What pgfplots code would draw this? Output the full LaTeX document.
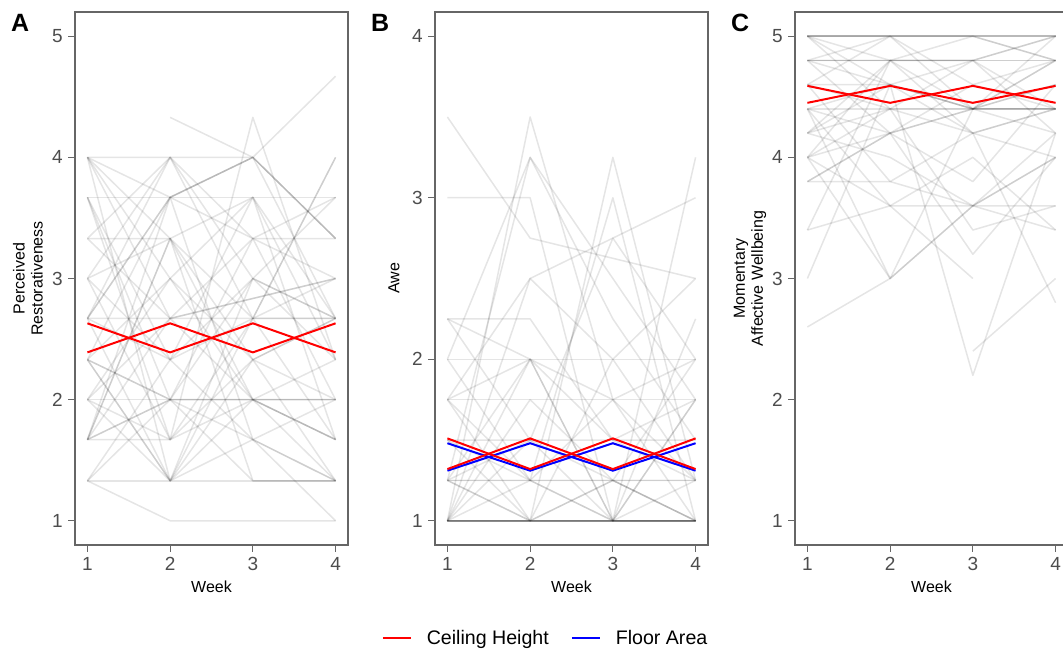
\documentclass[border=0pt]{standalone}
\usepackage{fontspec}
\setmainfont{Liberation Sans}
\usepackage{pgfplots}
\pgfplotsset{compat=1.18}
\definecolor{axgrey}{HTML}{666666}
\definecolor{tickgrey}{HTML}{4D4D4D}
\pgfplotsset{
  panel/.style={
    scale only axis, width=273pt, height=533pt, anchor=south west,
    xmin=0.85, xmax=4.15, xtick={1,2,3,4},
    axis line style={axgrey, line width=1.1pt},
    every tick/.style={axgrey, line width=1.1pt},
    tick align=outside, major tick length=7pt,
    xtick pos=bottom, ytick pos=left,
    ticklabel style={font=\fontsize{19}{22}\selectfont, text=tickgrey},
    /pgf/number format/assume math mode=true,
    yticklabel style={inner sep=0pt, xshift=-5pt},
    xticklabel style={inner sep=0pt, yshift=-5pt},
    xlabel=Week,
    label style={font=\fontsize{16}{18}\selectfont},
    xlabel style={at={(axis description cs:0.5,0)}, anchor=center, yshift=-42pt},
    ylabel style={align=center, anchor=center},
  },
  gl/.style={black, opacity=0.1, line width=1.5pt, forget plot, line join=round},
  ceil/.style={red, line width=2pt, forget plot},
  flr/.style={blue, line width=2pt, forget plot},
}
\begin{document}
\begin{tikzpicture}
\useasboundingbox (0,0) rectangle (1063pt,655pt);
% ---------------- Panel A ----------------
\begin{axis}[panel, at={(75pt,110pt)}, ymin=0.8, ymax=5.2, ytick={1,2,3,4,5},
  ylabel={Perceived\\Restorativeness},
  ylabel style={at={([xshift=-47pt]axis description cs:0,0.5)}}]
\addplot[gl] coordinates {(1,4)(2,4)(3,4)(4,3.33)};
\addplot[gl] coordinates {(1,4)(2,2.67)(3,2)(4,1.67)};
\addplot[gl] coordinates {(1,4)(2,3.33)(3,2.33)(4,1.33)};
\addplot[gl] coordinates {(1,4)(2,1.33)(3,2.33)(4,2)};
\addplot[gl] coordinates {(1,3.67)(2,3.67)(3,3.67)(4,3.67)};
\addplot[gl] coordinates {(1,3.67)(2,2)(3,1.33)(4,1.33)};
\addplot[gl] coordinates {(1,3.33)(2,3.33)(3,2.67)(4,2.67)};
\addplot[gl] coordinates {(1,3.33)(2,4)(3,3)(4,2.33)};
\addplot[gl] coordinates {(1,3)(2,2.33)(3,1.67)(4,2)};
\addplot[gl] coordinates {(1,3)(2,4)(3,3.33)(4,3)};
\addplot[gl] coordinates {(1,2.67)(2,3.67)(3,4)(4,3.33)};
\addplot[gl] coordinates {(1,2.33)(2,3.67)(3,4)(4,2.67)};
\addplot[gl] coordinates {(1,1.67)(2,3.67)(3,4)(4,3.33)};
\addplot[gl] coordinates {(1,2.67)(2,2.67)(4,3)};
\addplot[gl] coordinates {(1,1.67)(2,2.67)(4,3)};
\addplot[gl] coordinates {(1,2.67)(2,4)(3,2.67)(4,4)};
\addplot[gl] coordinates {(1,2.33)(2,1.33)(3,2)(4,2)};
\addplot[gl] coordinates {(1,2.33)(2,2)(3,2)(4,1.67)};
\addplot[gl] coordinates {(1,2.33)(2,2)(3,2)(4,2)};
\addplot[gl] coordinates {(1,1.67)(2,2)(3,3)(4,2.67)};
\addplot[gl] coordinates {(1,1.67)(2,2)(3,1.67)(4,1.33)};
\addplot[gl] coordinates {(1,1.67)(2,3.33)(3,3.67)(4,2.33)};
\addplot[gl] coordinates {(1,1.33)(2,1.33)(3,1.33)(4,1.33)};
\addplot[gl] coordinates {(1,1.33)(2,1)(3,1)(4,1)};
\addplot[gl] coordinates {(1,1.33)(2,2.33)(3,3)(4,3.67)};
\addplot[gl] coordinates {(1,2)(2,1.67)(3,4.33)(4,2.33)};
\addplot[gl] coordinates {(1,2)(2,1.33)(3,3)(4,2.67)};
\addplot[gl] coordinates {(1,2)(2,3)(3,2.33)(4,2.67)};
\addplot[gl] coordinates {(2,4.33)(3,4)(4,4.67)};
\addplot[gl] coordinates {(1,3)(2,1.67)(3,2.67)(4,4)};
\addplot[gl] coordinates {(1,4)(2,3)(3,3.67)(4,2.67)};
\addplot[gl] coordinates {(1,3.67)(2,2.33)(3,2.67)(4,3)};
\addplot[gl] coordinates {(1,2.67)(2,1.33)(3,1.67)(4,1.33)};
\addplot[gl] coordinates {(1,2)(2,2.67)(3,3.33)(4,3.33)};
\addplot[gl] coordinates {(1,2.33)(2,3)(3,2)(4,1.33)};
\addplot[gl] coordinates {(1,1.67)(2,1.67)(3,2.33)(4,2.67)};
\addplot[gl] coordinates {(1,3.33)(2,2.67)(3,2.67)(4,2.67)};
\addplot[gl] coordinates {(1,4)(2,3.67)(3,3.33)(4,3.67)};
\addplot[gl] coordinates {(1,2.67)(2,2.33)(3,3.67)(4,1.67)};
\addplot[gl] coordinates {(1,1.33)(2,2)(3,3.33)(4,2)};
\addplot[gl] coordinates {(1,3)(2,3.33)(3,1.33)(4,1.33)};
\addplot[gl] coordinates {(1,2)(2,2)(3,2)(4,2)};
\addplot[gl] coordinates {(1,2.33)(2,1.33)(3,2.67)(4,1.67)};
\addplot[gl] coordinates {(1,1.67)(2,3.33)(3,2)(4,1.67)};
\addplot[gl] coordinates {(1,3.67)(2,1.67)(3,2)(4,2.33)};
\addplot[gl] coordinates {(1,2.67)(2,3.67)(3,1.67)(4,1)};
\addplot[ceil] coordinates {(1,2.63)(2,2.39)(3,2.63)(4,2.39)};
\addplot[ceil] coordinates {(1,2.39)(2,2.63)(3,2.39)(4,2.63)};
\end{axis}
% ---------------- Panel B ----------------
\begin{axis}[panel, at={(435pt,110pt)}, ymin=0.85, ymax=4.15, ytick={1,2,3,4},
  ylabel={Awe},
  ylabel style={at={([xshift=-41pt]axis description cs:0,0.5)}},
  legend style={at={(0.405,-0.1745)}, anchor=center, draw=none, fill=none,
    legend columns=2, font=\fontsize{19.6}{22}\selectfont,
    /tikz/every even column/.append style={column sep=20pt}},
  legend image code/.code={\draw[#1] (0pt,0pt) -- (28pt,0pt); \path (41pt,0pt);}]
\addplot[gl] coordinates {(1,3.5)(2,2.75)(4,2.5)};
\addplot[gl] coordinates {(1,3)(2,3)(3,1)(4,1)};
\addplot[gl] coordinates {(1,1)(2,3.5)(3,1.75)(4,1)};
\addplot[gl] coordinates {(1,1.25)(2,3.25)(3,2.5)(4,1.75)};
\addplot[gl] coordinates {(1,1)(2,1)(3,3.25)(4,1.25)};
\addplot[gl] coordinates {(1,1.25)(2,1.25)(3,3)(4,1)};
\addplot[gl] coordinates {(1,1)(2,1)(3,1)(4,3.25)};
\addplot[gl] coordinates {(1,1.75)(2,2.5)(3,2.75)(4,3)};
\addplot[gl] coordinates {(1,2.25)(2,2)(3,1)(4,1)};
\addplot[gl] coordinates {(1,2)(2,2)(3,2)(4,2)};
\addplot[gl] coordinates {(1,1.75)(2,1.75)(3,1.75)(4,1.75)};
\addplot[gl] coordinates {(1,1.25)(2,1.25)(3,1.25)(4,1.25)};
\addplot[gl] coordinates {(1,1)(2,1)(3,1)(4,1)};
\addplot[gl] coordinates {(1,1)(2,1)(3,1)(4,1)};
\addplot[gl] coordinates {(1,1)(2,1)(3,1)(4,1)};
\addplot[gl] coordinates {(1,1.25)(2,1)(3,1)(4,1)};
\addplot[gl] coordinates {(1,1)(2,1)(3,1)(4,1.25)};
\addplot[gl] coordinates {(1,1)(2,1.25)(3,1)(4,2.25)};
\addplot[gl] coordinates {(1,2.25)(2,1.5)(3,1.25)(4,1)};
\addplot[gl] coordinates {(1,1.75)(2,2)(3,1.5)(4,1.25)};
\addplot[gl] coordinates {(1,1.5)(2,1.5)(3,1.5)(4,1.75)};
\addplot[gl] coordinates {(1,2)(2,1.25)(3,1.25)(4,1)};
\addplot[gl] coordinates {(1,1)(2,2.5)(3,2)(4,2.5)};
\addplot[gl] coordinates {(1,1.25)(2,2)(3,1.75)(4,2)};
\addplot[gl] coordinates {(1,1.5)(2,1.25)(3,1)(4,1.75)};
\addplot[gl] coordinates {(1,1)(2,1.5)(3,2.75)(4,2)};
\addplot[gl] coordinates {(1,1.75)(2,1)(3,2)(4,1.25)};
\addplot[gl] coordinates {(1,2.25)(2,2.25)(3,1.5)(4,1.5)};
\addplot[gl] coordinates {(1,1)(2,1.75)(3,1.25)(4,1)};
\addplot[gl] coordinates {(1,1.25)(2,1.5)(3,1)(4,1)};
\addplot[gl] coordinates {(1,1.5)(2,1)(3,1.25)(4,2)};
\addplot[gl] coordinates {(1,1)(2,1)(3,1.25)(4,1.25)};
\addplot[gl] coordinates {(1,2)(2,3.25)(3,2.25)(4,1.5)};
\addplot[gl] coordinates {(1,1)(2,2)(3,1)(4,1)};
\addplot[gl] coordinates {(1,1.75)(2,1.25)(3,1.75)(4,1.25)};
\addplot[gl] coordinates {(1,1.25)(2,1)(3,1)(4,1.75)};
\addplot[flr] coordinates {(1,1.48)(2,1.31)(3,1.48)(4,1.31)};
\addplot[flr] coordinates {(1,1.31)(2,1.48)(3,1.31)(4,1.48)};
\addplot[ceil] coordinates {(1,1.51)(2,1.32)(3,1.51)(4,1.32)};
\addplot[ceil] coordinates {(1,1.32)(2,1.51)(3,1.32)(4,1.51)};
\addlegendimage{red, line width=2pt}
\addlegendentry{Ceiling Height}
\addlegendimage{blue, line width=2pt}
\addlegendentry{Floor Area}
\end{axis}
% ---------------- Panel C ----------------
\begin{axis}[panel, at={(795pt,110pt)}, ymin=0.8, ymax=5.2, ytick={1,2,3,4,5},
  ylabel={Momentary\\Affective Wellbeing},
  ylabel style={at={([xshift=-45pt]axis description cs:0,0.5)}}]
\addplot[gl] coordinates {(1,5)(2,5)(3,5)(4,5)};
\addplot[gl] coordinates {(1,5)(2,5)(3,5)(4,5)};
\addplot[gl] coordinates {(1,5)(2,5)(3,5)(4,5)};
\addplot[gl] coordinates {(1,4.8)(2,5)(3,5)(4,4.8)};
\addplot[gl] coordinates {(1,5)(2,4.8)(3,4.8)(4,5)};
\addplot[gl] coordinates {(1,4.8)(2,4.8)(3,4.8)(4,4.8)};
\addplot[gl] coordinates {(1,4.8)(2,4.8)(3,4.8)(4,4.8)};
\addplot[gl] coordinates {(1,3.8)(2,4.2)(3,4.4)(4,4.8)};
\addplot[gl] coordinates {(1,3.8)(2,4.2)(3,4.4)(4,4.6)};
\addplot[gl] coordinates {(1,2.6)(2,3)(3,3.6)(4,4.2)};
\addplot[gl] coordinates {(1,3)(2,4.6)(3,4.4)(4,4.4)};
\addplot[gl] coordinates {(1,3.4)(2,4.8)(3,4.2)(4,4.4)};
\addplot[gl] coordinates {(1,4)(2,3)(3,4.4)(4,5)};
\addplot[gl] coordinates {(1,4)(2,3.6)(3,3.6)(4,3.6)};
\addplot[gl] coordinates {(1,4.4)(2,4.6)(3,2.2)(4,4.2)};
\addplot[gl] coordinates {(3,2.4)(4,3)};
\addplot[gl] coordinates {(1,4.4)(2,3.6)(3,3)};
\addplot[gl] coordinates {(1,4.2)(2,4.4)(3,3.4)(4,3.6)};
\addplot[gl] coordinates {(1,4)(2,4.2)(3,3.2)(4,4)};
\addplot[gl] coordinates {(1,4.6)(2,4.4)(3,4.2)(4,2.8)};
\addplot[gl] coordinates {(1,4.8)(2,4.6)(3,4.4)(4,4.6)};
\addplot[gl] coordinates {(1,4.4)(2,4.4)(3,4.4)(4,4.4)};
\addplot[gl] coordinates {(1,4.6)(2,3.8)(3,4.2)(4,4.4)};
\addplot[gl] coordinates {(1,4.2)(2,4)(3,3.6)(4,3.4)};
\addplot[gl] coordinates {(1,5)(2,4.4)(3,4.8)(4,4.4)};
\addplot[gl] coordinates {(1,4.8)(2,4.8)(3,4.4)(4,4.8)};
\addplot[gl] coordinates {(1,4)(2,4.8)(3,4.8)(4,4.2)};
\addplot[gl] coordinates {(1,3.8)(2,3.8)(3,3.6)(4,4)};
\addplot[gl] coordinates {(1,4.6)(2,5)(3,4.6)(4,4.8)};
\addplot[gl] coordinates {(1,4.4)(2,4.2)(3,4.6)(4,4.4)};
\addplot[gl] coordinates {(1,3.4)(2,3.6)(3,4)(4,3.4)};
\addplot[gl] coordinates {(1,4.2)(2,4.6)(3,4.2)(4,4)};
\addplot[gl] coordinates {(1,4.8)(2,4.2)(3,3.8)(4,4.6)};
\addplot[gl] coordinates {(1,5)(2,4.6)(3,4.8)(4,5)};
\addplot[gl] coordinates {(1,4)(2,4.4)(3,4.4)(4,4.4)};
\addplot[gl] coordinates {(1,4.4)(2,3)(3,3.6)(4,4)};
\addplot[gl] coordinates {(1,4.6)(2,4.6)(3,4.4)(4,4.2)};
\addplot[gl] coordinates {(1,4.2)(2,4.8)(3,5)(4,4.8)};
\addplot[gl] coordinates {(1,5)(2,5)(3,4.4)(4,4.4)};
\addplot[ceil] coordinates {(1,4.59)(2,4.45)(3,4.59)(4,4.45)};
\addplot[ceil] coordinates {(1,4.45)(2,4.59)(3,4.45)(4,4.59)};
\end{axis}
% panel letters
\node[anchor=base west, inner sep=0pt, font=\bfseries\fontsize{25}{30}\selectfont] at (11pt,623pt) {A};
\node[anchor=base west, inner sep=0pt, font=\bfseries\fontsize{25}{30}\selectfont] at (371pt,623pt) {B};
\node[anchor=base west, inner sep=0pt, font=\bfseries\fontsize{25}{30}\selectfont] at (731pt,623pt) {C};
\end{tikzpicture}
\end{document}
